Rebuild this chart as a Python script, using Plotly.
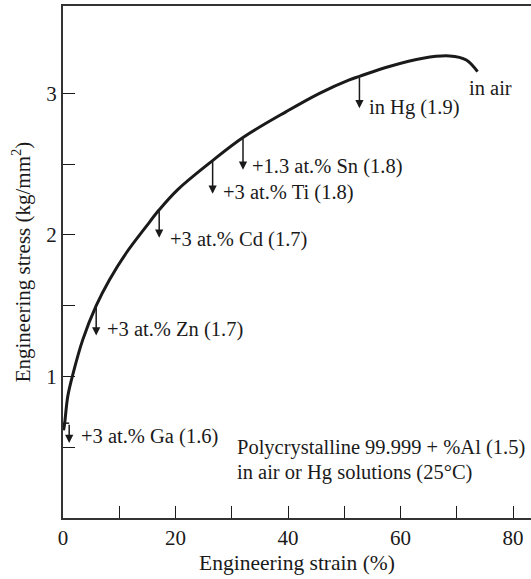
import plotly.graph_objects as go

# Curve (engineering strain %, engineering stress kg/mm^2)
strain = [0.1, 0.27, 0.85, 1.74, 3.52, 5.9, 8.27, 11.24, 14.8, 17.1, 20.4, 26.6, 32.0, 39.7, 45.6, 50.9, 52.7, 58.0, 64.0, 68.7, 71.7, 73.7]
stress = [0.62, 0.66, 0.86, 1.013, 1.26, 1.50, 1.683, 1.872, 2.06, 2.177, 2.32, 2.525, 2.688, 2.871, 3.0, 3.095, 3.12, 3.19, 3.248, 3.264, 3.236, 3.153]

# Arrows: strain where they leave the curve, stress at curve and at tip
arrow_strain = [5.9, 17.1, 26.6, 32.0, 52.7]
arrow_from = [1.50, 2.177, 2.525, 2.688, 3.12]
arrow_to = [1.29, 1.98, 2.29, 2.46, 2.895]

# Ga bracket
ga_strain = [0.0, 1.1]
ga_stress = [0.67, 0.53]

labels = ["+3 at.% Ga (1.6)", "+3 at.% Zn (1.7)", "+3 at.% Cd (1.7)", "+3 at.% Ti (1.8)",
          "+1.3 at.% Sn (1.8)", "in Hg (1.9)", "in air"]
label_x = [2.9, 7.5, 18.7, 28.0, 33.3, 54.1, 71.9]
label_y = [0.575, 1.33, 1.97, 2.30, 2.48, 2.90, 3.04]

note_lines = ["Polycrystalline 99.999 + %Al (1.5)", "in air or Hg solutions (25°C)"]
note_x = [30.5, 30.6]
note_y = [0.497, 0.32]

xtick_vals = [0, 20, 40, 60, 80]
xminor_vals = [10, 30, 50, 70]
ytick_vals = [1, 2, 3]
yminor_vals = [0.5, 1.5, 2.5]

FONT = "Liberation Serif"
INK = "#1a1a1a"
FS = 20.5

fig = go.Figure()
fig.add_trace(go.Scatter(x=strain, y=stress, mode="lines",
                         line=dict(color=INK, width=3, shape="spline", smoothing=1.0),
                         hoverinfo="skip", showlegend=False))
# Ga horizontal segment
fig.add_trace(go.Scatter(x=[ga_strain[0], ga_strain[1]], y=[ga_stress[0], ga_stress[0]], mode="lines",
                         line=dict(color=INK, width=1.5), hoverinfo="skip", showlegend=False))

ann = []
for sx, fy, ty in zip(arrow_strain, arrow_from, arrow_to):
    ann.append(dict(x=sx, y=ty, ax=sx, ay=fy, xref="x", yref="y", axref="x", ayref="y",
                    text="", showarrow=True, arrowhead=2, arrowsize=1.1, arrowwidth=1.5,
                    arrowcolor=INK, standoff=0, startstandoff=0))
ann.append(dict(x=ga_strain[1], y=ga_stress[1], ax=ga_strain[1], ay=ga_stress[0], xref="x", yref="y",
                axref="x", ayref="y", text="", showarrow=True, arrowhead=2, arrowsize=1.1,
                arrowwidth=1.5, arrowcolor=INK))
for t, lx, ly in zip(labels, label_x, label_y):
    ann.append(dict(x=lx, y=ly, xref="x", yref="y", text=t, showarrow=False,
                    xanchor="left", yanchor="middle", font=dict(family=FONT, size=FS, color=INK)))
for t, lx, ly in zip(note_lines, note_x, note_y):
    ann.append(dict(x=lx, y=ly, xref="x", yref="y", text=t, showarrow=False,
                    xanchor="left", yanchor="middle", font=dict(family=FONT, size=FS, color=INK)))

fig.update_layout(
    width=531, height=579,
    margin=dict(l=63, r=0, t=6, b=61),
    paper_bgcolor="white", plot_bgcolor="white",
    annotations=ann,
    font=dict(family=FONT, size=FS, color=INK),
    xaxis=dict(range=[0, 83.2], tickmode="array", tickvals=xtick_vals,
               ticks="inside", ticklen=12, tickwidth=1.3, tickcolor=INK,
               minor=dict(tickmode="array", tickvals=xminor_vals, ticks="inside", ticklen=12,
                          tickwidth=1.3, tickcolor=INK, showgrid=False),
               showline=True, linecolor="#333", linewidth=2, mirror=True,
               showgrid=False, zeroline=False,
               tickfont=dict(family=FONT, size=21, color=INK),
               title=dict(text="Engineering strain (%)", font=dict(family=FONT, size=21.5, color=INK), standoff=6)),
    yaxis=dict(range=[0, 3.617], tickmode="array", tickvals=ytick_vals,
               ticks="inside", ticklen=12, tickwidth=1.3, tickcolor=INK,
               minor=dict(tickmode="array", tickvals=yminor_vals, ticks="inside", ticklen=12,
                          tickwidth=1.3, tickcolor=INK, showgrid=False),
               showline=True, linecolor="#333", linewidth=2, mirror=False,
               showgrid=False, zeroline=False,
               tickfont=dict(family=FONT, size=21, color=INK),
               title=dict(text="Engineering stress (kg/mm<sup>2</sup>)", font=dict(family=FONT, size=21, color=INK), standoff=10)),
)

fig.write_html("out.html")
